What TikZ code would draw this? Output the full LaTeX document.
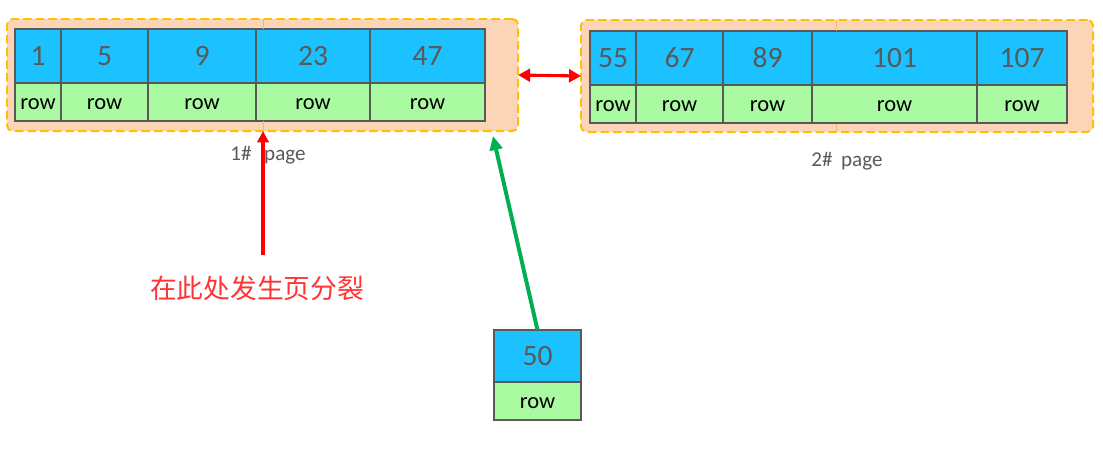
\documentclass[tikz,border=0pt]{standalone}
\usepackage{fontspec}
\setmainfont{Carlito}
\newfontfamily\cjk{Noto Sans CJK SC}
\usetikzlibrary{arrows.meta, positioning}
\definecolor{keyblue}{RGB}{28, 194, 255}
\definecolor{rowgreen}{RGB}{169, 250, 160}
\definecolor{pagefill}{RGB}{251, 213, 181}
\definecolor{pageedge}{RGB}{255, 192, 0}
\definecolor{celledge}{RGB}{89, 89, 89}
\definecolor{splitred}{RGB}{255, 0, 0}
\definecolor{textred}{RGB}{255, 51, 51}
\definecolor{insertgreen}{RGB}{0, 176, 80}
\tikzset{
  keycell/.style={draw=celledge, fill=keyblue, line width=1pt, inner sep=0pt, outer sep=0pt,
    minimum height=1.35cm, text=celledge, font=\fontsize{21}{21}\selectfont},
  rowcell/.style={draw=celledge, fill=rowgreen, line width=1pt, inner sep=0pt, outer sep=0pt,
    minimum height=0.95cm, text=black, text height=10.5pt, text depth=0pt, font=\fontsize{16}{16}\selectfont},
  pagebox/.style={draw=pageedge, fill=pagefill, line width=1.4pt, dash pattern=on 6pt off 3pt,
    rounded corners=4pt, inner sep=0pt, outer sep=0pt, anchor=north west, minimum height=2.8cm},
  pagelabel/.style={text=celledge, font=\fontsize{15}{15}\selectfont},
  pagetick/.style={draw=orange!60, line width=0.4pt},
  splitline/.style={draw=splitred, line width=2.2pt},
}
\begin{document}
\begin{tikzpicture}[x=0.025cm, y=-0.025cm]
  \useasboundingbox (0, 0) rectangle (1103, 452);

  % page 1
  \node[pagebox, minimum width=12.775cm] (page1) at (7, 19) {};
  \node[keycell, anchor=north west, minimum width=1.15cm] (p1k1) at (15, 29) {1};
  \node[keycell, right=0pt of p1k1, minimum width=2.175cm] (p1k2) {5};
  \node[keycell, right=0pt of p1k2, minimum width=2.7cm] (p1k3) {9};
  \node[keycell, right=0pt of p1k3, minimum width=2.85cm] (p1k4) {23};
  \node[keycell, right=0pt of p1k4, minimum width=2.875cm] (p1k5) {47};
  \node[rowcell, below=0pt of p1k1, minimum width=1.15cm] (p1r1) {row};
  \node[rowcell, below=0pt of p1k2, minimum width=2.175cm] (p1r2) {row};
  \node[rowcell, below=0pt of p1k3, minimum width=2.7cm] (p1r3) {row};
  \node[rowcell, below=0pt of p1k4, minimum width=2.85cm] (p1r4) {row};
  \node[rowcell, below=0pt of p1k5, minimum width=2.875cm] (p1r5) {row};
  \draw[pagetick] (263, 19) -- (263, 29) (263, 121) -- (263, 131);
  \node[pagelabel] (label1) at (268, 155) {1\#\hspace{0.6em}page};

  % page 2
  \node[pagebox, minimum width=12.8cm] (page2) at (581, 20) {};
  \node[keycell, anchor=north west, minimum width=1.15cm] (p2k1) at (590, 31) {55};
  \node[keycell, right=0pt of p2k1, minimum width=2.175cm] (p2k2) {67};
  \node[keycell, right=0pt of p2k2, minimum width=2.225cm] (p2k3) {89};
  \node[keycell, right=0pt of p2k3, minimum width=4.125cm] (p2k4) {101};
  \node[keycell, right=0pt of p2k4, minimum width=2.25cm] (p2k5) {107};
  \node[rowcell, below=0pt of p2k1, minimum width=1.15cm] (p2r1) {row};
  \node[rowcell, below=0pt of p2k2, minimum width=2.175cm] (p2r2) {row};
  \node[rowcell, below=0pt of p2k3, minimum width=2.225cm] (p2r3) {row};
  \node[rowcell, below=0pt of p2k4, minimum width=4.125cm] (p2r4) {row};
  \node[rowcell, below=0pt of p2k5, minimum width=2.25cm] (p2r5) {row};
  \draw[pagetick] (836, 20) -- (836, 31) (836, 124) -- (836, 132);
  \node[pagelabel] (label2) at (847, 161) {2\#\hspace{0.4em}page};

  \draw[splitline, {Triangle[length=8.5pt, width=9pt]}-{Triangle[length=8.5pt, width=9pt]}] (page1.east) -- (page2.west);

  % split point
  \coordinate (splitfoot) at (263, 255);
  \draw[splitline, -{Triangle[length=8pt, width=8pt]}] (splitfoot) -- (splitfoot |- page1.south);
  \node[text=textred, font=\cjk\fontsize{19}{19}\selectfont] (splitnote) at (257, 288) {在此处发生页分裂};

  % new record
  \node[keycell, anchor=north west, minimum width=2.175cm, minimum height=1.3cm] (newkey) at (494, 330) {50};
  \node[rowcell, below=0pt of newkey, minimum width=2.175cm] (newrow) {row};
  \coordinate (insertpos) at (493, 136);
  \draw[insertgreen, line width=2.8pt, -{Triangle[length=10pt, width=9pt]}] (newkey.north) -- (insertpos);
\end{tikzpicture}
\end{document}
